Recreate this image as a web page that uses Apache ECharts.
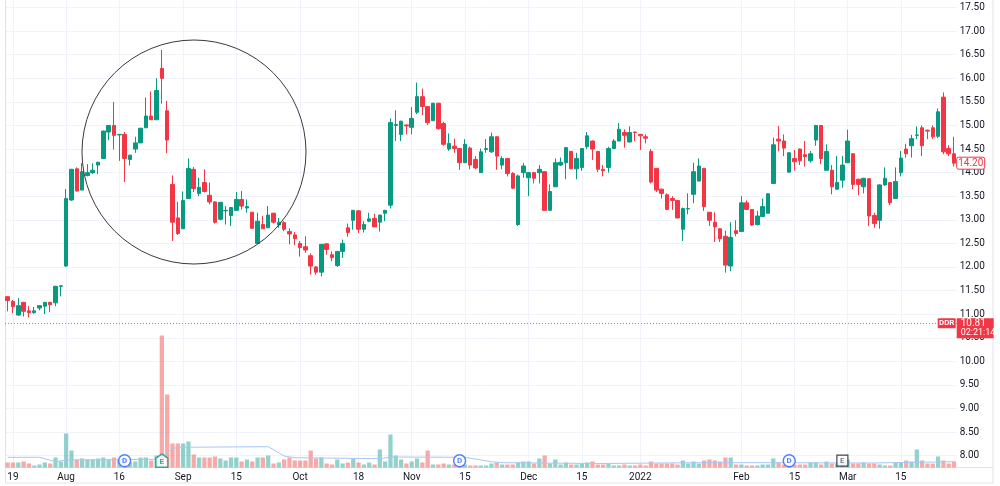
<!DOCTYPE html>
<html>
<head>
<meta charset="utf-8">
<script src="https://cdn.jsdelivr.net/npm/echarts@6/dist/echarts.min.js"></script>
<style>
  html, body { margin: 0; padding: 0; background: #fff; }
  #main { width: 1000px; height: 486px; }
</style>
</head>
<body>
<div id="main"></div>
<script>
// daily candles (index 0 = first bar on the left)
const opens = [11.37,11.27,10.98,11.25,11.07,11.03,11.13,11.17,11.25,11.24,11.59,12.02,13.42,14.08,13.63,13.94,14.00,14.16,14.30,14.86,
  15.00,14.80,14.81,14.28,14.50,14.63,14.95,15.20,15.12,16.21,15.31,13.75,13.04,12.81,13.45,14.07,13.56,13.79,13.52,13.38,
  13.01,13.19,13.09,13.20,13.43,13.25,13.16,12.50,12.90,12.83,13.14,12.89,12.94,12.75,12.68,12.50,12.43,12.24,12.00,11.89,
  12.49,12.26,12.03,12.33,12.83,12.99,13.19,12.80,12.97,13.03,12.95,13.14,13.31,15.00,14.81,15.01,14.96,15.28,15.61,15.40,
  15.10,15.47,15.04,14.50,14.56,14.51,14.21,14.52,14.28,14.00,14.49,14.44,14.76,14.16,14.30,13.98,12.90,14.00,13.89,14.00,
  14.00,14.02,13.20,13.70,14.16,14.21,14.45,14.08,14.11,14.55,14.67,14.45,14.07,14.11,14.51,14.67,14.85,14.65,14.86,14.81,
  14.76,14.45,14.09,13.65,13.53,13.45,13.41,12.80,13.23,13.54,13.82,14.09,13.16,12.95,12.81,12.65,12.02,12.77,12.75,13.36,
  13.22,12.90,13.07,13.14,13.77,14.71,14.67,14.01,14.30,14.50,14.38,14.25,14.69,15.00,14.05,14.05,13.65,13.84,14.21,14.40,
  13.86,13.70,13.87,13.09,12.99,13.74,13.79,13.45,14.00,14.50,14.57,14.79,14.95,14.90,14.95,14.77,15.60,14.51,14.40];
const closes = [11.29,11.16,11.18,11.06,11.03,11.07,11.18,11.25,11.20,11.59,11.60,13.45,14.07,13.61,14.02,14.00,14.05,14.22,14.88,15.00,
  14.79,14.81,14.30,14.37,14.63,14.94,15.20,15.12,15.74,16.00,14.69,12.95,12.71,13.41,14.09,13.66,13.69,13.60,13.38,12.95,
  13.37,13.20,13.26,13.43,13.29,13.28,12.82,12.97,12.81,13.10,12.95,12.95,12.80,12.70,12.60,12.41,12.36,12.02,11.89,12.48,
  12.37,12.20,12.33,12.50,12.73,13.20,12.80,12.90,13.02,12.85,13.10,13.20,15.06,15.02,15.09,14.99,15.15,15.61,15.40,15.06,
  15.47,14.93,14.60,14.62,14.51,14.21,14.60,14.16,14.10,14.44,14.51,14.76,14.35,14.30,13.98,13.67,13.93,14.14,14.00,13.88,
  14.07,13.20,13.60,14.21,14.22,14.53,14.08,14.30,14.51,14.78,14.50,14.07,14.04,14.51,14.67,14.92,14.79,14.85,14.85,14.78,
  14.73,13.80,13.63,13.56,13.22,13.41,13.04,13.24,13.24,14.02,14.14,13.28,12.99,12.85,12.60,12.04,12.63,12.71,13.36,13.22,
  12.89,13.08,13.28,13.55,14.59,14.67,14.52,14.42,14.23,14.25,14.34,14.40,15.00,14.30,14.45,13.70,13.79,14.16,14.67,13.75,
  13.75,13.88,13.08,12.92,13.74,13.88,13.36,13.81,14.31,14.40,14.72,14.80,14.57,14.88,14.76,15.29,14.44,14.40,14.20];
const lows = [11.06,11.02,10.97,10.95,10.93,11.01,11.08,11.00,11.04,11.17,11.38,12.00,13.40,13.60,13.63,13.92,13.97,13.97,14.30,14.69,
  14.49,14.25,13.80,14.15,14.42,14.63,14.95,15.12,15.12,15.46,14.41,12.55,12.68,12.81,13.45,13.59,13.50,13.58,13.33,12.92,
  12.99,12.90,12.87,13.20,13.22,13.15,12.81,12.50,12.81,12.83,12.92,12.83,12.76,12.48,12.46,12.22,12.30,11.84,11.84,11.80,
  12.26,12.12,12.00,12.19,12.64,12.79,12.72,12.73,12.95,12.85,12.75,12.97,13.24,14.67,14.67,14.81,14.81,15.24,15.22,15.01,
  15.10,14.91,14.57,14.46,14.42,14.06,14.21,14.07,14.07,14.00,14.42,14.42,14.06,14.07,13.92,13.65,12.87,13.89,13.50,13.77,
  13.77,13.19,13.20,13.70,14.14,13.86,14.08,13.86,14.04,14.50,14.27,14.01,13.92,14.00,14.50,14.67,14.53,14.64,14.67,14.48,
  14.62,13.77,13.59,13.45,13.21,13.21,13.03,12.55,13.12,13.35,13.82,13.19,12.87,12.53,12.53,11.88,11.91,12.65,12.75,13.21,
  12.87,12.88,13.07,13.14,13.77,14.45,14.35,14.01,14.04,14.16,14.13,14.21,14.57,14.18,14.05,13.54,13.63,13.68,14.21,13.65,
  13.52,13.56,12.87,12.83,12.81,13.72,13.31,13.45,13.92,14.32,14.32,14.71,14.35,14.71,14.71,14.73,14.39,14.35,14.13];
const highs = [11.38,11.30,11.34,11.26,11.17,11.15,11.19,11.26,11.26,11.60,11.61,13.65,14.08,14.11,14.20,14.18,14.20,14.23,14.89,15.01,
  15.50,14.82,14.86,14.38,14.76,14.95,15.59,15.72,16.00,16.60,15.52,13.94,13.38,13.60,14.30,14.12,13.89,14.07,13.79,13.39,
  13.38,13.29,13.27,13.59,13.61,13.43,13.17,13.15,13.08,13.29,13.15,13.04,12.97,12.82,12.74,12.55,12.65,12.29,12.02,12.49,
  12.50,12.33,12.34,12.58,12.92,13.21,13.20,12.97,13.15,13.13,13.11,13.21,15.15,15.32,15.10,15.02,15.39,15.91,15.78,15.41,
  15.48,15.48,15.08,14.83,14.72,14.52,14.71,14.55,14.35,14.51,14.71,14.85,14.77,14.35,14.31,14.01,13.96,14.20,14.01,14.01,
  14.16,14.03,13.75,14.30,14.32,14.54,14.46,14.42,14.52,14.86,14.68,14.46,14.16,14.55,14.71,15.05,14.92,14.98,14.87,14.82,
  14.81,14.50,14.10,13.66,13.56,13.50,13.42,13.26,13.56,14.21,14.30,14.10,13.17,13.16,12.82,12.77,12.95,12.99,13.50,13.41,
  13.23,13.19,13.45,13.56,14.74,14.99,14.81,14.43,14.48,14.51,14.67,14.46,15.01,15.01,14.60,14.16,14.35,14.35,14.91,14.41,
  13.87,13.89,13.88,13.15,13.75,14.11,13.80,14.11,14.46,14.61,14.80,14.98,15.00,14.91,15.00,15.36,15.70,14.58,14.76];
// volume, relative units
const volumes = [5,5,5,6,4,2,3,5,4,10,6,34,17,8,9,8,8,9,10,8,
  10,8,8,5,6,10,10,7,12,132,73,24,24,24,26,13,10,10,10,11,
  9,7,10,10,6,8,6,10,10,12,4,5,8,10,7,7,7,17,9,10,
  4,3,8,4,5,9,5,3,5,3,18,6,33,12,8,4,6,9,5,17,
  3,3,4,3,3,3,3,2,2,2,2,4,5,3,3,3,5,6,6,4,
  9,12,4,8,3,5,3,3,4,5,6,3,3,4,2,2,3,2,2,3,
  2,6,4,4,4,4,3,7,4,6,4,7,8,7,6,10,10,3,3,2,
  2,2,3,3,9,5,3,3,3,3,3,5,5,3,6,4,4,6,8,4,
  4,5,4,4,3,2,2,5,5,7,6,18,7,4,4,11,7,4,6];
// volume moving average, read at its turning points
const maIdx = [0, 6, 9, 11, 28, 31, 32, 49, 52, 54, 70, 72, 86, 91, 93, 111, 130, 143, 162, 171, 178];
const maVal = [10.2, 10.2, 5.8, 7.5, 8.2, 18.8, 20.2, 20.8, 11.5, 9.8, 8.8, 10.5, 10.2, 5.8, 4.8, 4.0, 4.8, 4.8, 4.5, 5.2, 5.8];

// time scale labels
const tickIdx = [1, 11, 21, 33, 43, 55, 66, 76, 86, 98, 108, 119, 138, 148, 158, 168];
const tickText = ['19', 'Aug', '16', 'Sep', '15', 'Oct', '18', 'Nov', '15', 'Dec', '15', '2022', 'Feb', '15', 'Mar', '15'];

// dividend / earnings markers
const divIdx = [22, 85, 147];
const earnIdx = [29];
const earnNextIdx = [157];

const ddrPrice = 10.81;
const ddrTimer = '02:21:14';

const UP = '#089981';
const DOWN = '#f23645';
const FONT = 'Roboto, "Open Sans", sans-serif';

const cats = opens.map((_, i) => String(i));
const candles = opens.map((o, i) => [o, closes[i], lows[i], highs[i]]);
const volData = volumes.map((v, i) => ({
  value: v,
  itemStyle: { color: closes[i] >= opens[i] ? 'rgba(38,166,154,0.5)' : 'rgba(239,83,80,0.5)' }
}));
const lastClose = closes[closes.length - 1];

const gridL = 5, gridR = 43.3;

const myChart = echarts.init(document.getElementById('main'), null, { renderer: 'canvas' });

const option = {
  animation: false,
  backgroundColor: '#ffffff',
  grid: [
    { left: gridL, right: gridR, top: 7.5, bottom: 30.3 },
    { left: gridL, right: gridR, top: 0, bottom: 18.5 }
  ],
  xAxis: [
    { type: 'category', gridIndex: 0, data: cats, boundaryGap: true, show: false },
    {
      type: 'category', gridIndex: 1, data: cats, boundaryGap: true,
      axisLine: { show: true, lineStyle: { color: '#e0e3eb' } },
      axisTick: { show: false },
      axisLabel: {
        interval: (i) => tickIdx.includes(i),
        formatter: (v, i) => tickText[tickIdx.indexOf(i)] || '',
        color: '#131722', fontSize: 10, fontFamily: FONT, margin: 5
      },
      splitLine: {
        show: true,
        interval: (i) => tickIdx.includes(i),
        alignWithLabel: true,
        lineStyle: { color: '#f0f3fa', width: 1 }
      }
    }
  ],
  yAxis: [
    {
      type: 'value', gridIndex: 0, position: 'right',
      min: 8, max: 17.5, interval: 0.5,
      axisLine: { show: false }, axisTick: { show: false },
      axisLabel: {
        formatter: (v) => v.toFixed(2),
        color: '#131722', fontSize: 10, fontFamily: FONT, margin: 3
      },
      splitLine: { lineStyle: { color: '#f0f3fa', width: 1 } }
    },
    { type: 'value', gridIndex: 1, min: 0, max: 467.5, show: false }
  ],
  series: [
    {
      name: 'Volume', type: 'bar', xAxisIndex: 1, yAxisIndex: 1,
      data: volData, barWidth: '80%', z: 1
    },
    {
      name: 'Vol MA', type: 'line', xAxisIndex: 1, yAxisIndex: 1,
      data: maIdx.map((i, k) => [i, maVal[k]]),
      symbol: 'none', lineStyle: { color: '#a9c6f5', width: 1 }, z: 2
    },
    {
      name: 'Dividends', type: 'scatter', xAxisIndex: 1, yAxisIndex: 1,
      data: divIdx.map(i => [i, 6.8]),
      symbol: 'circle', symbolSize: 12,
      itemStyle: { color: '#ffffff', borderColor: '#2962ff', borderWidth: 1.5 },
      label: { show: true, position: 'inside', formatter: 'D', color: '#2962ff', fontSize: 8, fontWeight: 'bold', fontFamily: FONT },
      z: 4
    },
    {
      name: 'Earnings', type: 'scatter', xAxisIndex: 1, yAxisIndex: 1,
      data: earnIdx.map(i => [i, 6.8]),
      symbol: 'path://M0,4 L6,0 L12,4 L12,13 L0,13 Z', symbolSize: [12, 13],
      itemStyle: { color: '#ffffff', borderColor: UP, borderWidth: 1.5 },
      label: { show: true, position: 'inside', formatter: 'E', color: UP, fontSize: 8, fontWeight: 'bold', fontFamily: FONT, offset: [0, 1] },
      z: 4
    },
    {
      name: 'Next earnings', type: 'scatter', xAxisIndex: 1, yAxisIndex: 1,
      data: earnNextIdx.map(i => [i, 6.8]),
      symbol: 'rect', symbolSize: [11, 11],
      itemStyle: { color: '#ffffff', borderColor: '#131722', borderWidth: 1.2 },
      label: { show: true, position: 'inside', formatter: 'E', color: '#131722', fontSize: 8, fontFamily: FONT },
      z: 4
    },
    {
      name: 'Price', type: 'candlestick', xAxisIndex: 0, yAxisIndex: 0,
      data: candles, barWidth: 4, z: 3,
      itemStyle: { color: UP, color0: DOWN, borderColor: UP, borderColor0: DOWN, borderWidth: 1 },
      markLine: {
        silent: true, symbol: 'none',
        label: { show: false },
        lineStyle: { color: DOWN, type: [1, 2], width: 1, opacity: 0.8 },
        data: [{ yAxis: ddrPrice }]
      }
    }
  ]
};

myChart.setOption(option);

// labels on the price scale, placed from the axis
const yDdr = myChart.convertToPixel({ yAxisIndex: 0 }, ddrPrice);
const yLast = myChart.convertToPixel({ yAxisIndex: 0 }, lastClose);
const axisX = 1000 - gridR;

myChart.setOption({
  graphic: [
    // hand drawn circle
    { type: 'circle', shape: { cx: 194, cy: 152, r: 112 }, style: { fill: 'none', stroke: '#3a3a3a', lineWidth: 1 }, z: 10 },
    // frame
    { type: 'rect', shape: { x: 5.5, y: -1, width: 987.5, height: 484 }, style: { fill: 'none', stroke: '#e0e3eb', lineWidth: 1 }, z: 0 },
    { type: 'line', shape: { x1: axisX, y1: 467.5, x2: 993, y2: 467.5 }, style: { stroke: '#e0e3eb', lineWidth: 1 } },
    // last price
    { type: 'rect', shape: { x: axisX, y: yLast - 6, width: 28, height: 12, r: 2 }, style: { fill: '#ffffff', stroke: DOWN, lineWidth: 1 }, z: 20 },
    { type: 'text', x: axisX + 14, y: yLast, style: { text: lastClose.toFixed(2), fill: DOWN, font: '10px ' + FONT, align: 'center', verticalAlign: 'middle' }, z: 21 },
    // DDR tag
    { type: 'rect', shape: { x: axisX - 19, y: yDdr - 5, width: 18, height: 10, r: 1 }, style: { fill: DOWN }, z: 20 },
    { type: 'text', x: axisX - 10, y: yDdr, style: { text: 'DDR', fill: '#ffffff', font: 'bold 8px ' + FONT, align: 'center', verticalAlign: 'middle' }, z: 21 },
    { type: 'rect', shape: { x: axisX, y: yDdr - 5, width: 37, height: 20 }, style: { fill: DOWN }, z: 20 },
    { type: 'text', x: axisX + 4, y: yDdr + 0.5, style: { text: ddrPrice.toFixed(2), fill: '#ffffff', font: '10px ' + FONT, align: 'left', verticalAlign: 'middle' }, z: 21 },
    { type: 'text', x: axisX + 4, y: yDdr + 9.5, style: { text: ddrTimer, fill: '#ffffff', font: '9px ' + FONT, align: 'left', verticalAlign: 'middle' }, z: 21 }
  ]
});

window.addEventListener('resize', () => {
  myChart.resize();
});
</script>
</body>
</html>
